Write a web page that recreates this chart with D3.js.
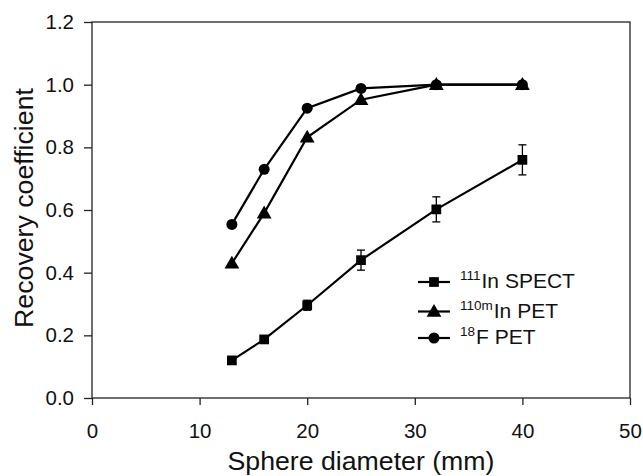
<!DOCTYPE html>
<html>
<head>
<meta charset="utf-8">
<script src="https://cdn.jsdelivr.net/npm/d3@7"></script>
<style>
  body { margin: 0; background: #fff; }
  svg { font-family: "Liberation Sans", Arial, Helvetica, sans-serif; }
</style>
</head>
<body>
<svg width="643" height="476"></svg>
<script>
// sphere sizes (mm)
var diameters = [13, 16, 20, 25, 32, 40];
var spect111In = [0.12, 0.187, 0.296, 0.44, 0.602, 0.76];
var spectErr = [0.006, 0.008, 0.016, 0.032, 0.04, 0.048];
var pet110mIn = [0.43, 0.59, 0.832, 0.952, 1.0, 1.0];
var pet18F = [0.554, 0.73, 0.925, 0.988, 1.0, 1.0];
var xTicks = [0, 10, 20, 30, 40, 50];
var yTicks = [0, 0.2, 0.4, 0.6, 0.8, 1.0, 1.2];

var series = [
  {sup: "18", name: "F PET", vals: pet18F, shape: d3.symbolCircle},
  {sup: "110m", name: "In PET", vals: pet110mIn, shape: d3.symbolTriangle},
  {sup: "111", name: "In SPECT", vals: spect111In, err: spectErr, shape: d3.symbolSquare}
];

var svg = d3.select("svg");
var margin = {top: 22, right: 13, bottom: 78, left: 92};
var width = 643 - margin.left - margin.right;
var height = 476 - margin.top - margin.bottom;

var g = svg.append("g")
  .attr("transform", "translate(" + margin.left + "," + margin.top + ")");

var x = d3.scaleLinear().domain([0, 50]).range([0, width]);
var y = d3.scaleLinear().domain([0, 1.2]).range([height, 0]);

// frame
g.append("rect")
  .attr("width", width).attr("height", height)
  .attr("fill", "none").attr("stroke", "#222").attr("stroke-width", 1.3);

var xAxis = g.append("g")
  .attr("transform", "translate(0," + height + ")")
  .call(d3.axisBottom(x).tickValues(xTicks).tickSize(7).tickPadding(18).tickFormat(d3.format("d")));
var yAxis = g.append("g")
  .call(d3.axisLeft(y).tickValues(yTicks).tickSize(8).tickPadding(10).tickFormat(d3.format(".1f")));

[xAxis, yAxis].forEach(function(a) {
  a.select(".domain").remove();
  a.selectAll("line").attr("stroke", "#222").attr("stroke-width", 1.3);
  a.selectAll("text").attr("font-size", 20.5).attr("fill", "#111")
    .attr("font-family", "Liberation Sans, Arial, sans-serif");
});

svg.append("text")
  .attr("x", margin.left + width / 2).attr("y", 470)
  .attr("text-anchor", "middle").attr("font-size", 26.7).attr("fill", "#111")
  .text("Sphere diameter (mm)");

svg.append("text")
  .attr("transform", "translate(33,208) rotate(-90)")
  .attr("text-anchor", "middle").attr("font-size", 26.7).attr("fill", "#111")
  .text("Recovery coefficient");

var line = d3.line()
  .x(function(d, i) { return x(diameters[i]); })
  .y(function(d) { return y(d); });

var symSize = {};
symSize[d3.symbolCircle] = 85;
symSize[d3.symbolTriangle] = 70;
symSize[d3.symbolSquare] = 95;

series.forEach(function(s) {
  g.append("path")
    .datum(s.vals)
    .attr("d", line)
    .attr("fill", "none").attr("stroke", "#000").attr("stroke-width", 2.2);

  if (s.err) {
    var eb = g.append("g").selectAll("g").data(s.vals).enter().append("g")
      .attr("stroke", "#000").attr("stroke-width", 1.3);
    eb.append("line")
      .attr("x1", function(d, i) { return x(diameters[i]); })
      .attr("x2", function(d, i) { return x(diameters[i]); })
      .attr("y1", function(d, i) { return y(d + s.err[i]); })
      .attr("y2", function(d, i) { return y(d - s.err[i]); });
    [1, -1].forEach(function(sg) {
      eb.filter(function(d, i) { return s.err[i] > 0.012; }).append("line")
        .attr("x1", function(d) { return x(diameters[s.vals.indexOf(d)]) - 4; })
        .attr("x2", function(d) { return x(diameters[s.vals.indexOf(d)]) + 4; })
        .attr("y1", function(d) { var i = s.vals.indexOf(d); return y(d + sg * s.err[i]); })
        .attr("y2", function(d) { var i = s.vals.indexOf(d); return y(d + sg * s.err[i]); });
    });
  }

  g.selectAll(null).data(s.vals).enter().append("path")
    .attr("transform", function(d, i) {
      var dy = s.shape === d3.symbolTriangle ? 1 : 0;
      return "translate(" + x(diameters[i]) + "," + (y(d) + dy) + ")";
    })
    .attr("d", d3.symbol().type(s.shape).size(symSize[s.shape]))
    .attr("fill", "#000");
});

// legend
var legendRows = [series[2], series[1], series[0]];
var legend = svg.append("g").attr("transform", "translate(418,282)");
legendRows.forEach(function(s, k) {
  var row = legend.append("g").attr("transform", "translate(0," + [0, 29.5, 56][k] + ")");
  row.append("line").attr("x1", 0).attr("x2", 32)
    .attr("stroke", "#000").attr("stroke-width", 2.2);
  row.append("path")
    .attr("transform", "translate(16," + (s.shape === d3.symbolTriangle ? 1 : 0) + ")")
    .attr("d", d3.symbol().type(s.shape).size(symSize[s.shape]))
    .attr("fill", "#000");
  var t = row.append("text").attr("x", 42).attr("y", 6)
    .attr("font-size", 21).attr("fill", "#111");
  t.append("tspan").attr("font-size", 13.5).attr("dy", -8).text(s.sup);
  t.append("tspan").attr("dy", 8).attr("dx", 1).text(s.name);
});
</script>
</body>
</html>
